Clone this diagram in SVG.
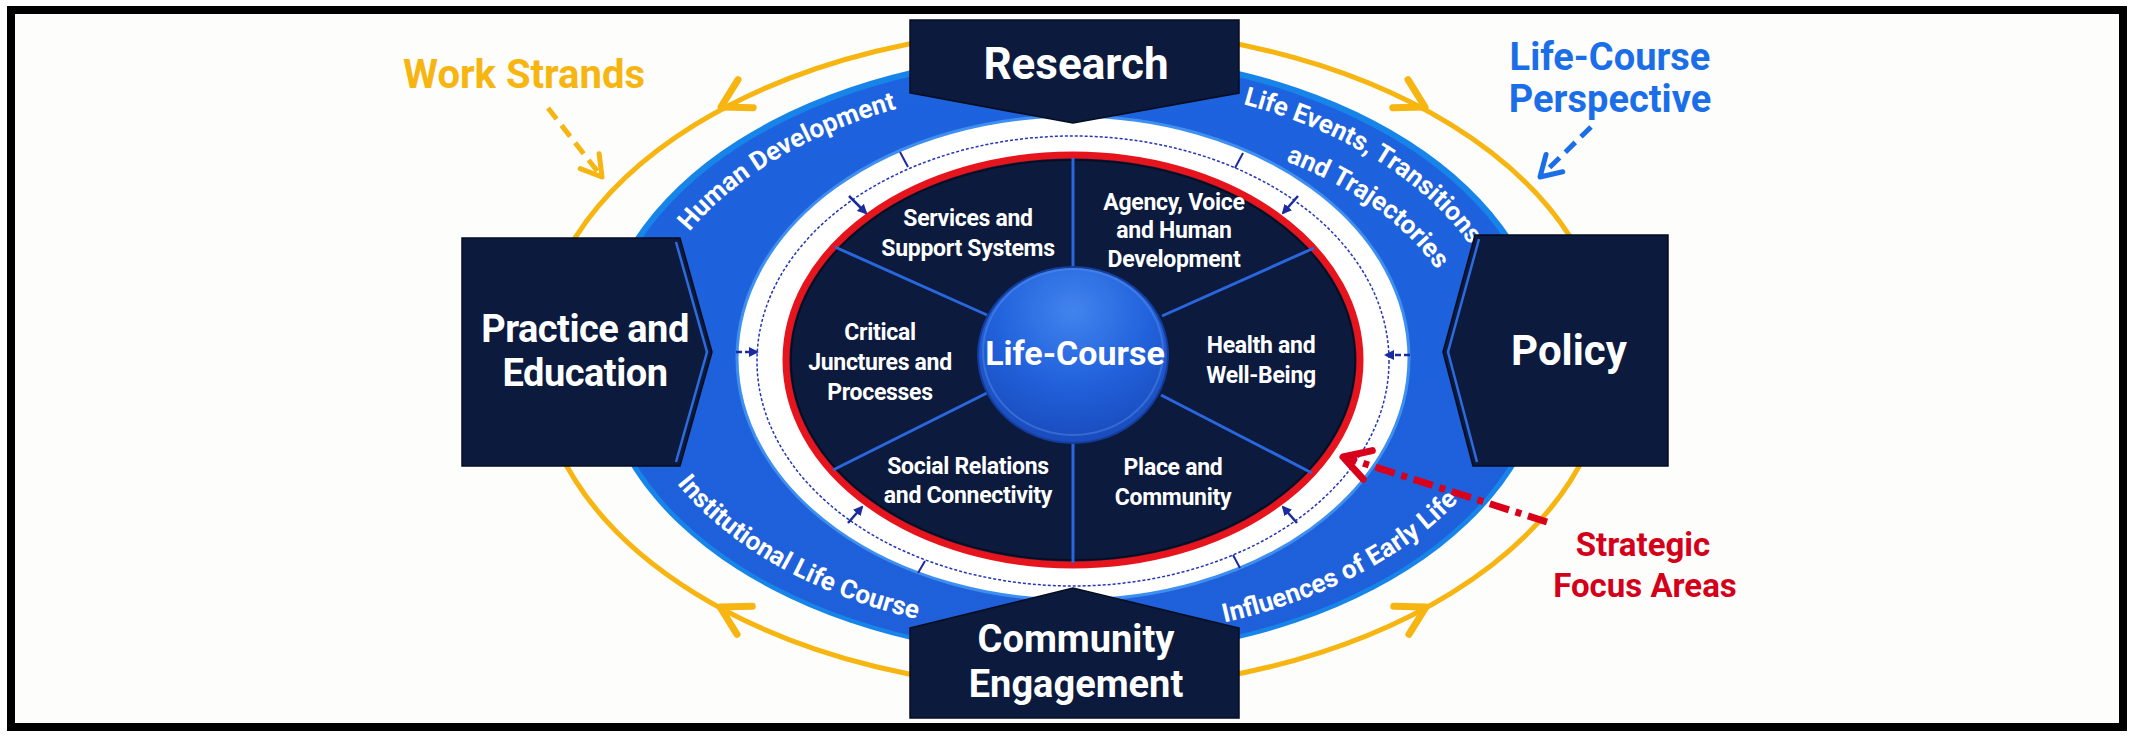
<svg xmlns="http://www.w3.org/2000/svg" width="2134" height="737" viewBox="0 0 2134 737">
<defs>
  <radialGradient id="gCore" cx="50%" cy="25%" r="80%">
    <stop offset="0" stop-color="#4284ee"/>
    <stop offset="0.5" stop-color="#2262dc"/>
    <stop offset="1" stop-color="#1848b8"/>
  </radialGradient>
  <linearGradient id="gBand" x1="0" y1="0" x2="0" y2="1">
    <stop offset="0" stop-color="#1d62de"/>
    <stop offset="1" stop-color="#1f60da"/>
  </linearGradient>
  <marker id="mSmall" viewBox="0 0 10 10" refX="8" refY="5" markerWidth="4" markerHeight="4" orient="auto" markerUnits="strokeWidth">
    <path d="M0 0 L10 5 L0 10 z" fill="#1b2a9c"/>
  </marker>
  <path id="pHD" d="M 644.2 323.9 A 432 272 0 0 1 1050.4 85.4"/>
  <path id="pLE1" d="M 1106.9 83.1 A 434 274 0 0 1 1505 328.6"/>
  <path id="pLE2" d="M 1134.3 126.9 A 392 233 0 0 1 1465 352.9"/>
  <path id="pIL" d="M 635.7 405.6 A 444 280 0 0 0 1073 637"/>
  <path id="pIE" d="M 1061.3 638.9 A 448 282 0 0 0 1512 413.2"/>
</defs>
<style>
  .box{fill:#0b1a3d;stroke:#050d20;stroke-width:1.5}
  .edge{fill:none;stroke:#2d6be0;stroke-width:2.5}
  .t{font-family:Roboto,"Liberation Sans",sans-serif;font-weight:700;text-anchor:middle}
  .w{fill:#ffffff}
  .boxt{font-size:44px}
  .sec{font-size:23px;letter-spacing:-0.3px}
  .band{font-size:26px;fill:#ffffff}
  .div{stroke:#2a66dd;stroke-width:3;fill:none}
  .tick{stroke:#1b2a9c;stroke-width:2;fill:none}
  .sa{stroke:#1b2a9c;stroke-width:2.5;fill:none;marker-end:url(#mSmall)}
  .ychev{fill:none;stroke:#f6b511;stroke-width:7;stroke-linecap:round;stroke-linejoin:round}
</style>

<rect x="0" y="0" width="2134" height="737" fill="#ffffff"/>
<rect id="frame" x="11" y="10" width="2112" height="717" fill="#fdfdfc" stroke="#000000" stroke-width="8"/>

<g id="rings">
  <ellipse cx="1073" cy="355" rx="475" ry="303" fill="#1784ea"/>
  <ellipse cx="1073" cy="356" rx="469" ry="298" fill="url(#gBand)"/>
  <ellipse cx="1073" cy="358" rx="336" ry="242" fill="#ffffff" stroke="#3f8ff0" stroke-width="3"/>
  <ellipse cx="1073" cy="361" rx="316" ry="225" fill="none" stroke="#2435b8" stroke-width="1.5" stroke-dasharray="3 2"/>
</g>

<g id="focus-areas">
  <ellipse cx="1073" cy="360" rx="287" ry="205" fill="#0b1a3d" stroke="#e5141d" stroke-width="7"/>
  <ellipse cx="1073" cy="360" rx="282" ry="200" fill="none" stroke="#000000" stroke-opacity="0.5" stroke-width="1.5"/>
  <g id="dividers">
    <line class="div" x1="1073" y1="158" x2="1073" y2="267"/>
    <line class="div" x1="1073" y1="442" x2="1073" y2="563"/>
    <line class="div" x1="835" y1="247" x2="987" y2="315"/>
    <line class="div" x1="1162" y1="316" x2="1314" y2="248"/>
    <line class="div" x1="987" y1="393" x2="833" y2="470"/>
    <line class="div" x1="1161" y1="395" x2="1312" y2="473"/>
  </g>
  <g id="sec-services"><text class="t w sec" x="968" y="226">Services and</text><text class="t w sec" x="968" y="256">Support Systems</text></g>
  <g id="sec-agency"><text class="t w sec" x="1174" y="210">Agency, Voice</text><text class="t w sec" x="1174" y="238">and Human</text><text class="t w sec" x="1174" y="267">Development</text></g>
  <g id="sec-critical"><text class="t w sec" x="880" y="340">Critical</text><text class="t w sec" x="880" y="370">Junctures and</text><text class="t w sec" x="880" y="400">Processes</text></g>
  <g id="sec-health"><text class="t w sec" x="1261" y="353">Health and</text><text class="t w sec" x="1261" y="383">Well-Being</text></g>
  <g id="sec-social"><text class="t w sec" x="968" y="474">Social Relations</text><text class="t w sec" x="968" y="503">and Connectivity</text></g>
  <g id="sec-place"><text class="t w sec" x="1173" y="475">Place and</text><text class="t w sec" x="1173" y="505">Community</text></g>
</g>

<g id="core">
  <ellipse cx="1073" cy="355" rx="95" ry="88" fill="url(#gCore)" stroke="#143c9a" stroke-width="2"/>
  <ellipse cx="1073" cy="352" rx="90" ry="83" fill="none" stroke="#6aa0f4" stroke-opacity="0.35" stroke-width="2"/>
  <text class="t w" x="1075" y="365" font-size="34">Life-Course</text>
</g>

<g id="band-labels">
  <text class="t band"><textPath href="#pHD" startOffset="226">Human Development</textPath></text>
  <text class="t band" font-size="25"><textPath href="#pLE1" startOffset="274">Life Events, Transitions</textPath></text>
  <text class="t band"><textPath href="#pLE2" startOffset="250">and Trajectories</textPath></text>
  <text class="t band"><textPath href="#pIL" startOffset="229">Institutional Life Course</textPath></text>
  <text class="t band" font-size="25"><textPath href="#pIE" startOffset="298">Influences of Early Life</textPath></text>
</g>

<g id="connectors">
  <ellipse cx="1073" cy="359" rx="535" ry="331" fill="none" stroke="#f6b511" stroke-width="5"/>
  <path class="ychev" d="M -28 -16 L 0 0 L -28 16" transform="translate(721 107) rotate(151.6)"/>
  <path class="ychev" d="M -28 -16 L 0 0 L -28 16" transform="translate(1425 107) rotate(28.4)"/>
  <path class="ychev" d="M -28 -16 L 0 0 L -28 16" transform="translate(720 607) rotate(208.4)"/>
  <path class="ychev" d="M -28 -16 L 0 0 L -28 16" transform="translate(1426 607) rotate(-28.4)"/>
  <line class="tick" x1="900" y1="152" x2="908" y2="167"/>
  <line class="tick" x1="1243" y1="153" x2="1235" y2="168"/>
  <line class="tick" x1="925" y1="561" x2="918" y2="573"/>
  <line class="tick" x1="1233" y1="555" x2="1240" y2="568"/>
  <line class="sa" x1="849" y1="196" x2="866" y2="213"/>
  <line class="sa" x1="1298" y1="196" x2="1283" y2="213"/>
  <line class="sa" x1="736" y1="352" x2="757" y2="352" stroke-dasharray="6 3"/>
  <line class="sa" x1="1410" y1="355" x2="1386" y2="355" stroke-dasharray="6 3"/>
  <line class="sa" x1="848" y1="523" x2="862" y2="507"/>
  <line class="sa" x1="1297" y1="523" x2="1283" y2="507"/>
  <line x1="548" y1="108" x2="598" y2="172" stroke="#f6b511" stroke-width="5" stroke-dasharray="14 8"/>
  <path d="M -20 -12 L 0 0 L -20 12" transform="translate(602 177) rotate(52)" fill="none" stroke="#f6b511" stroke-width="5" stroke-linecap="round" stroke-linejoin="round"/>
  <line x1="1591" y1="127" x2="1544" y2="173" stroke="#1a6ee8" stroke-width="5" stroke-dasharray="14 8"/>
  <path d="M -20 -12 L 0 0 L -20 12" transform="translate(1540 177) rotate(136)" fill="none" stroke="#1a6ee8" stroke-width="5" stroke-linecap="round" stroke-linejoin="round"/>
  <line x1="1547" y1="522" x2="1350" y2="459" stroke="#d9001b" stroke-width="7" stroke-dasharray="20 7 6 7"/>
  <path d="M -26 -15 L 0 0 L -26 15" transform="translate(1343 457) rotate(197.7)" fill="none" stroke="#d9001b" stroke-width="7" stroke-linecap="round" stroke-linejoin="round"/>
</g>

<g id="research">
  <polygon class="box" points="910,20 1239,20 1239,93 1073,123 910,93"/>
  <text class="t w boxt" x="1076" y="79">Research</text>
</g>
<g id="practice">
  <polygon class="box" points="462,238 680,238 712,352 680,466 462,466"/>
  <polyline class="edge" points="676,242 707,352 676,462"/>
  <text class="t w" x="585" y="342" font-size="38" letter-spacing="-0.5">Practice and</text>
  <text class="t w" x="585" y="386" font-size="38" letter-spacing="-0.5">Education</text>
</g>
<g id="policy">
  <polygon class="box" points="1475,235 1668,235 1668,466 1473,466 1443,352"/>
  <polyline class="edge" points="1479,239 1448,352 1477,462"/>
  <text class="t w" x="1569" y="365" font-size="42">Policy</text>
</g>
<g id="community">
  <polygon class="box" points="910,628 1073,588 1239,628 1239,718 910,718"/>
  <text class="t w" x="1076" y="652" font-size="38">Community</text>
  <text class="t w" x="1076" y="697" font-size="38">Engagement</text>
</g>

<g id="callout-work">
  <text class="t" x="524" y="88" font-size="40" fill="#f6b511">Work Strands</text>
</g>
<g id="callout-perspective">
  <text class="t" x="1610" y="70" font-size="38" fill="#1a6ee8">Life-Course</text>
  <text class="t" x="1610" y="112" font-size="38" fill="#1a6ee8">Perspective</text>
</g>
<g id="callout-focus">
  <text class="t" x="1643" y="556" font-size="33" fill="#d4001a">Strategic</text>
  <text class="t" x="1645" y="597" font-size="33" fill="#d4001a">Focus Areas</text>
</g>
</svg>
